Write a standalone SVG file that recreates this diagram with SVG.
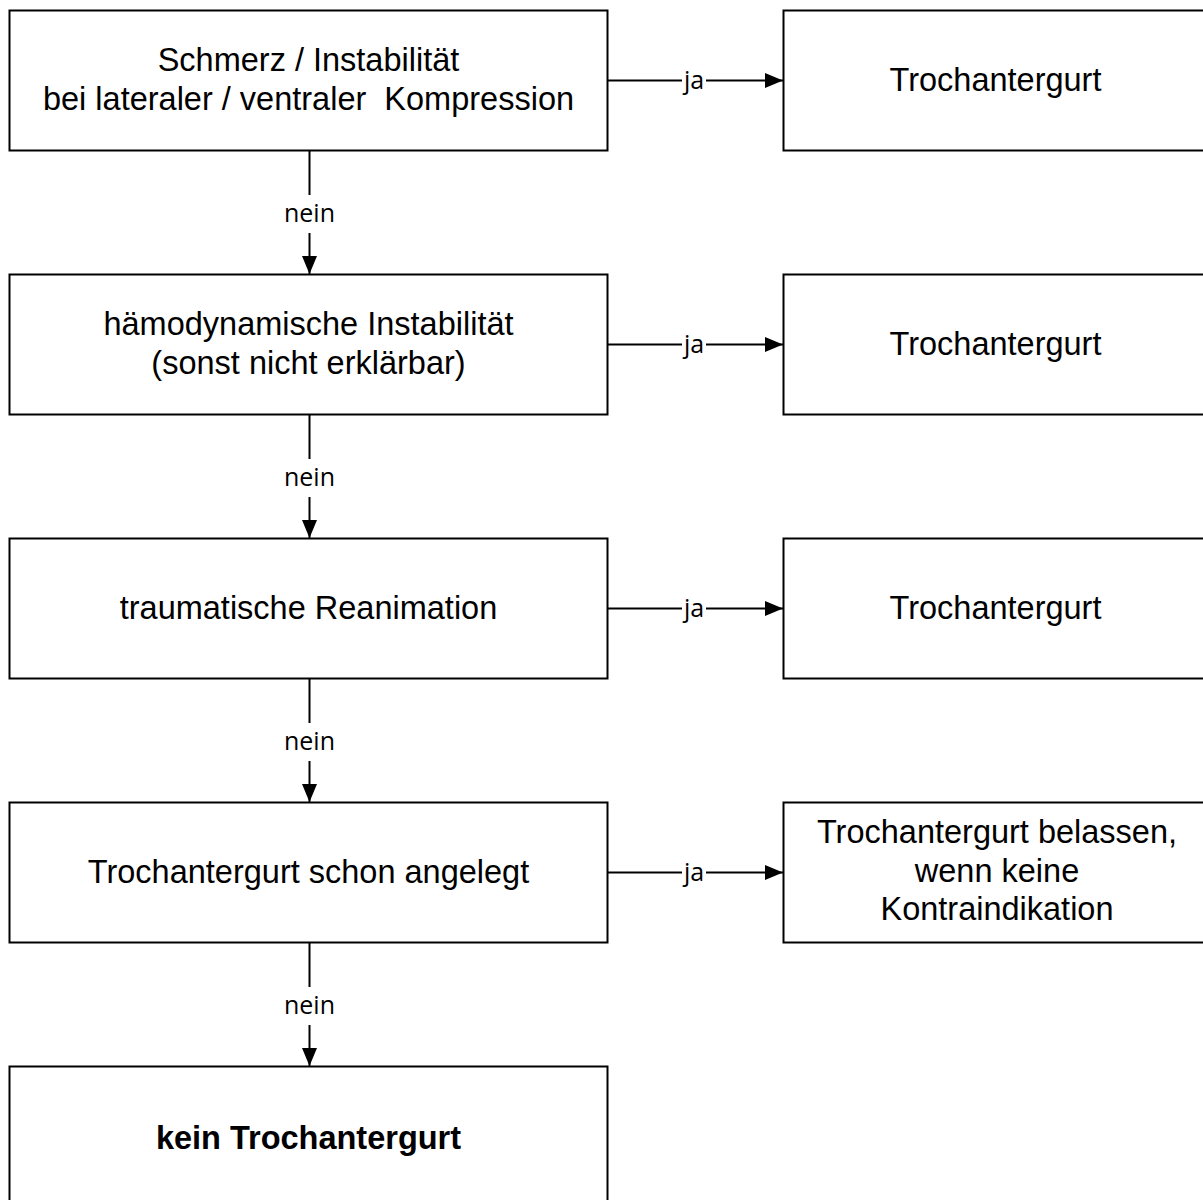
<svg xmlns="http://www.w3.org/2000/svg" width="1203" height="1200" viewBox="0 0 1203 1200">
<style>
.box{fill:#fff;stroke:#000;stroke-width:2}
.t{font-family:"Liberation Sans",Arial,sans-serif;font-size:32.5px;fill:#000;text-anchor:middle}
.b{font-weight:bold}
.pre{white-space:pre}
.edge{stroke:#000;stroke-width:2;fill:none}
.lbl{font-family:"Open Sans","Noto Sans",sans-serif;font-size:25px;fill:#000;text-anchor:middle}
.bg{fill:#fff}
</style>
<defs>
<marker id="arr" markerUnits="userSpaceOnUse" markerWidth="18" markerHeight="15" refX="18" refY="7.5" orient="auto">
<path d="M0,0 L18,7.5 L0,15 Z" fill="#000"/>
</marker>
</defs>
<rect width="1203" height="1200" fill="#fff"/>
<g id="connectors">
<line class="edge" x1="608" y1="80.5" x2="783" y2="80.5" marker-end="url(#arr)"/>
<line class="edge" x1="608" y1="344.5" x2="783" y2="344.5" marker-end="url(#arr)"/>
<line class="edge" x1="608" y1="608.5" x2="783" y2="608.5" marker-end="url(#arr)"/>
<line class="edge" x1="608" y1="872.5" x2="783" y2="872.5" marker-end="url(#arr)"/>
<line class="edge" x1="309.5" y1="151" x2="309.5" y2="274" marker-end="url(#arr)"/>
<line class="edge" x1="309.5" y1="415" x2="309.5" y2="538" marker-end="url(#arr)"/>
<line class="edge" x1="309.5" y1="679" x2="309.5" y2="802" marker-end="url(#arr)"/>
<line class="edge" x1="309.5" y1="943" x2="309.5" y2="1066" marker-end="url(#arr)"/>
<rect class="bg" x="682" y="64" width="24" height="34"/>
<text class="lbl" x="694" y="89">ja</text>
<rect class="bg" x="682" y="328" width="24" height="34"/>
<text class="lbl" x="694" y="353">ja</text>
<rect class="bg" x="682" y="592" width="24" height="34"/>
<text class="lbl" x="694" y="617">ja</text>
<rect class="bg" x="682" y="856" width="24" height="34"/>
<text class="lbl" x="694" y="881">ja</text>
<rect class="bg" x="280" y="195" width="59" height="38"/>
<text class="lbl" x="309.5" y="222">nein</text>
<rect class="bg" x="280" y="459" width="59" height="38"/>
<text class="lbl" x="309.5" y="486">nein</text>
<rect class="bg" x="280" y="723" width="59" height="38"/>
<text class="lbl" x="309.5" y="750">nein</text>
<rect class="bg" x="280" y="987" width="59" height="38"/>
<text class="lbl" x="309.5" y="1014">nein</text>
</g>
<g id="q1">
<rect class="box" x="9.5" y="10.5" width="598" height="140"/>
<text class="t" x="308.5" y="71">Schmerz / Instabilität</text>
<text class="t pre" x="308.5" y="110">bei lateraler / ventraler  Kompression</text>
</g>
<g id="a1">
<rect class="box" x="783.5" y="10.5" width="430" height="140"/>
<text class="t" x="995.5" y="91">Trochantergurt</text>
</g>
<g id="q2">
<rect class="box" x="9.5" y="274.5" width="598" height="140"/>
<text class="t" x="308.5" y="335">hämodynamische Instabilität</text>
<text class="t" x="308.5" y="374">(sonst nicht erklärbar)</text>
</g>
<g id="a2">
<rect class="box" x="783.5" y="274.5" width="430" height="140"/>
<text class="t" x="995.5" y="355">Trochantergurt</text>
</g>
<g id="q3">
<rect class="box" x="9.5" y="538.5" width="598" height="140"/>
<text class="t" x="308.5" y="619">traumatische Reanimation</text>
</g>
<g id="a3">
<rect class="box" x="783.5" y="538.5" width="430" height="140"/>
<text class="t" x="995.5" y="619">Trochantergurt</text>
</g>
<g id="q4">
<rect class="box" x="9.5" y="802.5" width="598" height="140"/>
<text class="t" x="308.5" y="883">Trochantergurt schon angelegt</text>
</g>
<g id="a4">
<rect class="box" x="783.5" y="802.5" width="430" height="140"/>
<text class="t" x="997" y="843">Trochantergurt belassen,</text>
<text class="t" x="997" y="882">wenn keine</text>
<text class="t" x="997" y="920">Kontraindikation</text>
</g>
<g id="end">
<rect class="box" x="9.5" y="1066.5" width="598" height="140"/>
<text class="t b" x="308.5" y="1149">kein Trochantergurt</text>
</g>
</svg>
